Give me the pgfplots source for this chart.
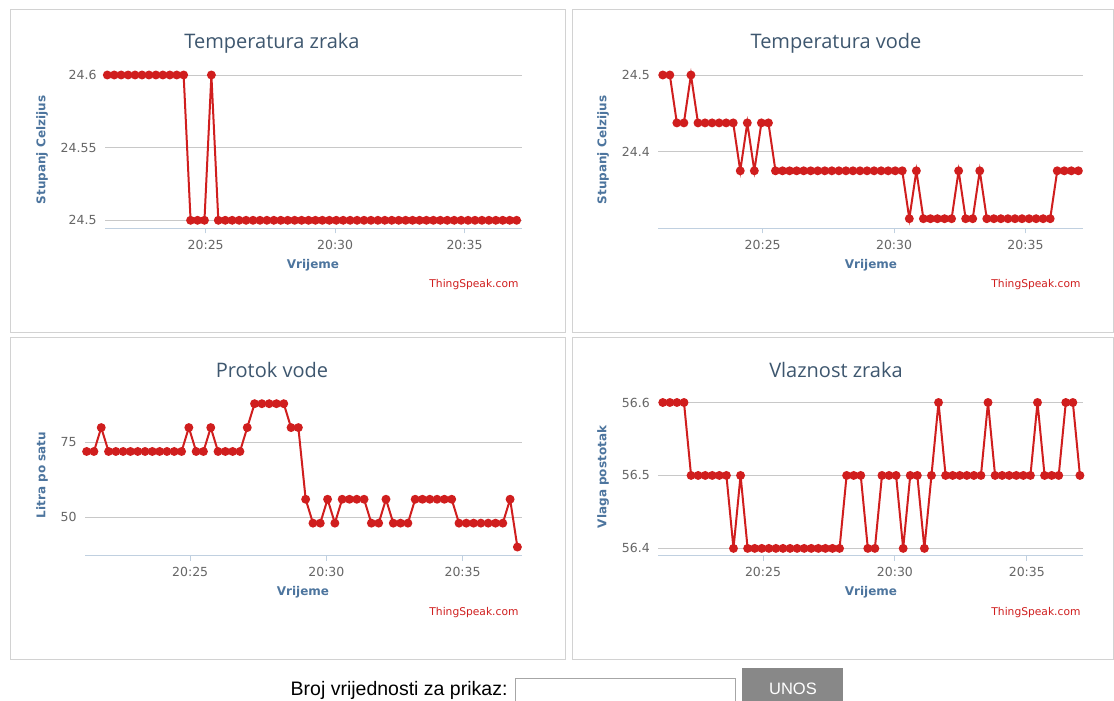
\documentclass[border=0pt]{standalone}
\usepackage{fontspec}
\setmainfont{DejaVu Sans}
\newfontfamily\titlefont{Open Sans}
\newfontfamily\arialfont{Liberation Sans}
\usepackage{pgfplots}
\usepackage{pgfplotstable}
\pgfplotsset{compat=1.18}
\definecolor{tsred}{RGB}{208,30,30}
\definecolor{gridcol}{RGB}{200,200,200}
\definecolor{axcol}{RGB}{192,208,224}
\definecolor{tickcol}{RGB}{102,102,102}
\definecolor{titlecol}{RGB}{62,87,111}
\definecolor{labcol}{RGB}{77,117,158}
\definecolor{boxcol}{RGB}{210,210,210}
\definecolor{btncol}{RGB}{136,136,136}

\pgfplotstableread{
i t a b c d
0 21.200 24.6 24.5 72 56.6
1 21.468 24.6 24.5 72 56.6
2 21.736 24.6 24.4375 80 56.6
3 22.004 24.6 24.4375 72 56.6
4 22.272 24.6 24.5 72 56.5
5 22.540 24.6 24.4375 72 56.5
6 22.808 24.6 24.4375 72 56.5
7 23.076 24.6 24.4375 72 56.5
8 23.344 24.6 24.4375 72 56.5
9 23.612 24.6 24.4375 72 56.5
10 23.880 24.6 24.4375 72 56.4
11 24.148 24.6 24.375 72 56.5
12 24.416 24.5 24.4375 72 56.4
13 24.684 24.5 24.375 72 56.4
14 24.952 24.5 24.4375 80 56.4
15 25.220 24.6 24.4375 72 56.4
16 25.488 24.5 24.375 72 56.4
17 25.756 24.5 24.375 80 56.4
18 26.024 24.5 24.375 72 56.4
19 26.292 24.5 24.375 72 56.4
20 26.560 24.5 24.375 72 56.4
21 26.828 24.5 24.375 72 56.4
22 27.096 24.5 24.375 80 56.4
23 27.364 24.5 24.375 88 56.4
24 27.632 24.5 24.375 88 56.4
25 27.900 24.5 24.375 88 56.4
26 28.168 24.5 24.375 88 56.5
27 28.436 24.5 24.375 88 56.5
28 28.704 24.5 24.375 80 56.5
29 28.972 24.5 24.375 80 56.4
30 29.240 24.5 24.375 56 56.4
31 29.508 24.5 24.375 48 56.5
32 29.776 24.5 24.375 48 56.5
33 30.044 24.5 24.375 56 56.5
34 30.312 24.5 24.375 48 56.4
35 30.580 24.5 24.3125 56 56.5
36 30.848 24.5 24.375 56 56.5
37 31.116 24.5 24.3125 56 56.4
38 31.384 24.5 24.3125 56 56.5
39 31.652 24.5 24.3125 48 56.6
40 31.920 24.5 24.3125 48 56.5
41 32.188 24.5 24.3125 56 56.5
42 32.456 24.5 24.375 48 56.5
43 32.724 24.5 24.3125 48 56.5
44 32.992 24.5 24.3125 48 56.5
45 33.260 24.5 24.375 56 56.5
46 33.528 24.5 24.3125 56 56.6
47 33.796 24.5 24.3125 56 56.5
48 34.064 24.5 24.3125 56 56.5
49 34.332 24.5 24.3125 56 56.5
50 34.600 24.5 24.3125 56 56.5
51 34.868 24.5 24.3125 48 56.5
52 35.136 24.5 24.3125 48 56.5
53 35.404 24.5 24.3125 48 56.6
54 35.672 24.5 24.3125 48 56.5
55 35.940 24.5 24.3125 48 56.5
56 36.208 24.5 24.375 48 56.5
57 36.476 24.5 24.375 48 56.6
58 36.744 24.5 24.375 56 56.6
59 37.012 24.5 24.375 40 56.5
}\datatable

\pgfplotsset{
  tsaxis/.style={
    scale only axis,
    anchor=south west,
    axis x line*=bottom,
    axis y line*=left,
    y axis line style={draw=none},
    x axis line style={draw=axcol, line width=1pt},
    ymajorgrids,
    grid style={gridcol, line width=0.9pt},
    xtick={25,30,35},
    xticklabels={20:25,20:30,20:35},
    tick align=outside,
    major tick length=5pt,
    xtick style={draw=axcol, line width=1pt},
    ytick style={draw=none},
    tick label style={font=\fontsize{12.5}{14}\selectfont, text=tickcol},
    /pgf/number format/assume math mode=true,
    xticklabel style={yshift=-3pt},
    clip=false,
  },
  tsline/.style={tsred, line width=2pt, mark=*, mark size=3.4pt, mark options={solid, fill=tsred, draw=tsred}},
}

\begin{document}
\begin{tikzpicture}[x=1pt,y=1pt]
\useasboundingbox (0,0) rectangle (1114,701);
\fill[white] (0,0) rectangle (1114,701);

% boxes
\draw[boxcol, line width=1pt] (10,691) rectangle (565,368);
\draw[boxcol, line width=1pt] (572,691) rectangle (1113.5,368);
\draw[boxcol, line width=1pt] (10,363) rectangle (565,41);
\draw[boxcol, line width=1pt] (572,363) rectangle (1113.5,41);

% Panel 1
\begin{axis}[tsaxis, at={(105pt,472.7pt)}, width=417pt, height=153.3pt,
  xmin=21.11, xmax=37.22, ymin=24.4945, ymax=24.6,
  ytick={24.5,24.55,24.6}, yticklabels={24.5,24.55,24.6}]
\addplot[tsline] table[x=t,y=a]{\datatable};
\end{axis}
% Panel 2
\begin{axis}[tsaxis, at={(658.3pt,472.7pt)}, width=425pt, height=153.3pt,
  xmin=21.03, xmax=37.2, ymin=24.3, ymax=24.5,
  ytick={24.4,24.5}, yticklabels={24.4,24.5}]
\addplot[tsline] table[x=t,y=b]{\datatable};
\end{axis}
% Panel 3
\begin{axis}[tsaxis, at={(85pt,145.3pt)}, width=436.7pt, height=153.2pt,
  xmin=21.14, xmax=37.17, ymin=37.1, ymax=88.4,
  ytick={50,75}, yticklabels={50,75}]
\addplot[tsline] table[x=t,y=c]{\datatable};
\end{axis}
% Panel 4
\begin{axis}[tsaxis, at={(658.3pt,145.3pt)}, width=425pt, height=153.2pt,
  xmin=21.03, xmax=37.14, ymin=56.39, ymax=56.6,
  ytick={56.4,56.5,56.6}, yticklabels={56.4,56.5,56.6}]
\addplot[tsline] table[x=t,y=d]{\datatable};
\end{axis}

% titles
\begin{scope}[every node/.style={font=\titlefont\fontsize{20}{23}\selectfont, text=titlecol}]
\node at (272,658) {Temperatura zraka};
\node at (836,658) {Temperatura vode};
\node at (272,331) {Protok vode};
\node at (836,331) {Vlaznost zraka};
\end{scope}

% axis titles
\begin{scope}[every node/.style={font=\bfseries\fontsize{12}{14}\selectfont, text=labcol}]
\node[rotate=90] at (42,551) {Stupanj Celzijus};
\node[rotate=90] at (603,551) {Stupanj Celzijus};
\node[rotate=90] at (42,226) {Litra po satu};
\node[rotate=90] at (603,224) {Vlaga postotak};
\node at (313,436) {Vrijeme};
\node at (871,436) {Vrijeme};
\node at (303,109) {Vrijeme};
\node at (871,109) {Vrijeme};
\end{scope}

% credits
\begin{scope}[every node/.style={font=\fontsize{10.7}{12}\selectfont, text=tsred, anchor=east}]
\node at (522,416) {ThingSpeak.com};
\node at (1084,416) {ThingSpeak.com};
\node at (522,88) {ThingSpeak.com};
\node at (1084,88) {ThingSpeak.com};
\end{scope}

% form
\node[font=\arialfont\fontsize{19.5}{22}\selectfont, anchor=east] at (511,11) {Broj vrijednosti za prikaz:};
\draw[gray!70, line width=1pt] (515.5,-2) rectangle (735,22.5);
\fill[btncol] (742,0) rectangle (843,33);
\node[font=\arialfont\fontsize{16.5}{19}\selectfont, text=white] at (793,12) {UNOS};
\end{tikzpicture}
\end{document}
